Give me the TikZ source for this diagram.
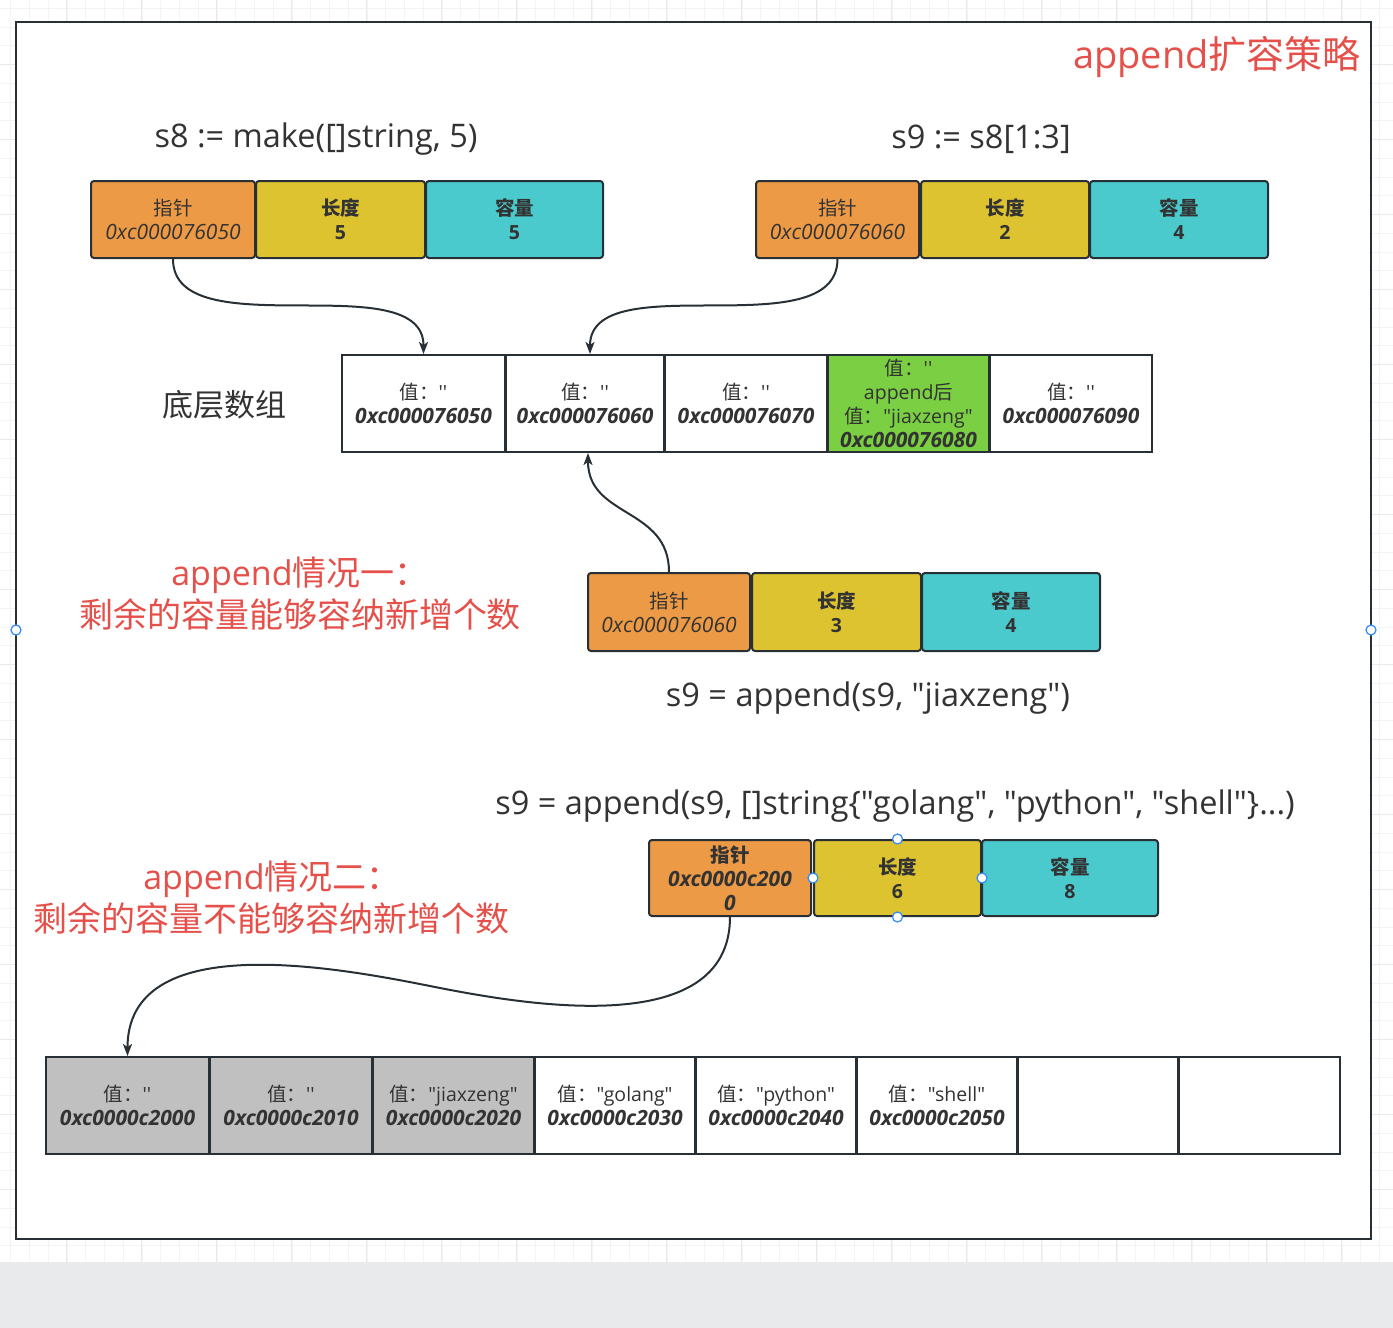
\documentclass[tikz,border=0pt]{standalone}
\usepackage{fontspec}
\setmainfont{Open Sans}[Ligatures=TeXOff]
\newfontfamily\cjkfont{Noto Sans CJK SC}
\newcommand\zh[1]{{\cjkfont #1}}
\newcommand\eq{''}
\newcommand\boxfont{\fontsize{19.5}{24}\selectfont}
\newcommand\ad{\fontsize{21}{24}\selectfont\itshape}
\usetikzlibrary{arrows.meta}
\definecolor{linec}{HTML}{283036}
\definecolor{txt}{HTML}{333333}
\definecolor{redt}{HTML}{E5504A}
\definecolor{orangef}{HTML}{EC9A45}
\definecolor{yellowf}{HTML}{DEC330}
\definecolor{tealf}{HTML}{4ACACD}
\definecolor{greenf}{HTML}{7ACF42}
\definecolor{grayf}{HTML}{C0C0C0}
\definecolor{band}{HTML}{E9EAEC}
\definecolor{gridminor}{HTML}{F4F4F4}
\definecolor{gridmajor}{HTML}{EAEAEA}
\definecolor{handlec}{HTML}{2F88FF}
\tikzset{
  hbox/.style={draw=linec, line width=2pt, rounded corners=3pt, inner sep=0pt, align=center, text=txt, font=\boxfont},
  cell/.style={draw=linec, line width=2pt, inner sep=0pt, align=center, text=txt, font=\boxfont, minimum height=97pt},
  conn/.style={draw=linec, line width=2pt, -{Stealth[length=12pt,width=9pt,inset=3pt]}},
  codetext/.style={text=txt, font=\fontsize{32.5}{38}\selectfont, inner sep=0pt},
  redtext/.style={text=redt, align=center, inner sep=0pt},
  handle/.style={circle, draw=handlec, fill=white, line width=1.2pt, minimum size=10pt, inner sep=0pt}
}
\begin{document}
\begin{tikzpicture}[x=1pt,y=-1pt]
\useasboundingbox (0,0) rectangle (1393,1328);
\fill[white] (0,0) rectangle (1393,1262);
\foreach \x in {10.8,29.55,...,1393} \draw[gridminor, line width=1pt] (\x,0) -- (\x,1262);
\foreach \y in {8.3,27.05,...,1262} \draw[gridminor, line width=1pt] (0,\y) -- (1393,\y);
\foreach \x in {66.7,141.7,...,1393} \draw[gridmajor, line width=1pt] (\x,0) -- (\x,1262);
\foreach \y in {64.6,139.6,...,1262} \draw[gridmajor, line width=1pt] (0,\y) -- (1393,\y);
\fill[band] (0,1262) rectangle (1393,1328);
\filldraw[fill=white, draw=linec, line width=2.2pt] (16,22) rectangle (1371,1239);

% title
\node[redtext, anchor=east, font=\fontsize{38}{44}\selectfont] (title) at (1361,57) {append\zh{扩容策略}};

% s8 header
\node[codetext] (s8lbl) at (316,139) {s8 := make([]string, 5)};
\node[hbox, fill=orangef, minimum width=164pt, minimum height=77pt] (p1) at (173,219.5) {\zh{指针}\\\ad 0xc000076050};
\node[hbox, fill=yellowf, minimum width=169pt, minimum height=77pt] (l1) at (340.5,219.5) {\bfseries\zh{长度}\\\bfseries 5};
\node[hbox, fill=tealf, minimum width=177pt, minimum height=77pt] (c1) at (514.5,219.5) {\bfseries\zh{容量}\\\bfseries 5};

% s9 header
\node[codetext] (s9lbl) at (981,139) {s9 := s8[1:3]};
\node[hbox, fill=orangef, minimum width=163pt, minimum height=77pt] (p2) at (837.5,219.5) {\zh{指针}\\\ad 0xc000076060};
\node[hbox, fill=yellowf, minimum width=168pt, minimum height=77pt] (l2) at (1005,219.5) {\bfseries\zh{长度}\\\bfseries 2};
\node[hbox, fill=tealf, minimum width=178pt, minimum height=77pt] (c2) at (1179,219.5) {\bfseries\zh{容量}\\\bfseries 4};

% underlying array
\node[text=txt, font=\fontsize{31}{36}\selectfont, inner sep=0pt] (arrlbl) at (224,405) {\zh{底层数组}};
\node[cell, fill=white, minimum width=163pt] (a1) at (423.5,403.5) {\zh{值：}\eq\\\bfseries\ad 0xc000076050};
\node[cell, fill=white, minimum width=158pt] (a2) at (585,403.5) {\zh{值：}\eq\\\bfseries\ad 0xc000076060};
\node[cell, fill=white, minimum width=162pt] (a3) at (746,403.5) {\zh{值：}\eq\\\bfseries\ad 0xc000076070};
\node[cell, fill=greenf, minimum width=161pt] (a4) at (908.5,403.5) {\zh{值：}\eq\\append\zh{后}\\\zh{值：}"jiaxzeng"\\\bfseries\ad 0xc000076080};
\node[cell, fill=white, minimum width=162pt] (a5) at (1071,403.5) {\zh{值：}\eq\\\bfseries\ad 0xc000076090};

% case 1
\node[redtext, font=\fontsize{34}{42}\selectfont] (case1) at (300,594) {append\zh{情况一：}\\\zh{剩余的容量能够容纳新增个数}};
\node[hbox, fill=orangef, minimum width=162pt, minimum height=78pt] (p3) at (669,612) {\zh{指针}\\\ad 0xc000076060};
\node[hbox, fill=yellowf, minimum width=169pt, minimum height=78pt] (l3) at (836.5,612) {\bfseries\zh{长度}\\\bfseries 3};
\node[hbox, fill=tealf, minimum width=178pt, minimum height=78pt] (c3) at (1011,612) {\bfseries\zh{容量}\\\bfseries 4};
\node[codetext] (app1) at (868,698) {s9 = append(s9, "jiaxzeng")};

% case 2
\node[codetext] (app2) at (895,806) {s9 = append(s9, []string\{"golang", "python", "shell"\}...)};
\node[redtext, font=\fontsize{34}{42}\selectfont] (case2) at (272,898) {append\zh{情况二：}\\\zh{剩余的容量不能够容纳新增个数}};
\node[hbox, fill=orangef, minimum width=162pt, minimum height=76pt] (p4) at (730,878) {\bfseries\zh{指针}\\\bfseries\ad 0xc0000c200\\\bfseries\ad 0};
\node[hbox, fill=yellowf, minimum width=167pt, minimum height=76pt] (l4) at (897.5,878) {\bfseries\zh{长度}\\\bfseries 6};
\node[hbox, fill=tealf, minimum width=176pt, minimum height=76pt] (c4) at (1070,878) {\bfseries\zh{容量}\\\bfseries 8};

% new array
\node[cell, fill=grayf, minimum width=163pt] (b1) at (127.5,1105.5) {\zh{值：}\eq\\\bfseries\ad 0xc0000c2000};
\node[cell, fill=grayf, minimum width=162pt] (b2) at (291,1105.5) {\zh{值：}\eq\\\bfseries\ad 0xc0000c2010};
\node[cell, fill=grayf, minimum width=161pt] (b3) at (453.5,1105.5) {\zh{值：}"jiaxzeng"\\\bfseries\ad 0xc0000c2020};
\node[cell, fill=white, minimum width=160pt] (b4) at (615,1105.5) {\zh{值：}"golang"\\\bfseries\ad 0xc0000c2030};
\node[cell, fill=white, minimum width=160pt] (b5) at (776,1105.5) {\zh{值：}"python"\\\bfseries\ad 0xc0000c2040};
\node[cell, fill=white, minimum width=160pt] (b6) at (937,1105.5) {\zh{值：}"shell"\\\bfseries\ad 0xc0000c2050};
\node[cell, fill=white, minimum width=160pt] (b7) at (1098,1105.5) {};
\node[cell, fill=white, minimum width=161pt] (b8) at (1259.5,1105.5) {};

% connectors
\coordinate (a2in) at ([xshift=5pt]a2.north);
\coordinate (a2out) at ([xshift=3pt]a2.south);
\draw[conn] (p1.south) .. controls +(0,90) and +(0,-90) .. (a1.north);
\draw[conn] (p2.south) .. controls +(0,90) and +(0,-90) .. (a2in);
\draw[conn] (p3.north) .. controls +(0,-65) and +(0,65) .. (a2out);
\coordinate (m4) at (430,986);
\draw[conn] (p4.south) .. controls +(0,125) and (520,1004) .. (m4) .. controls (330,966) and (127.5,930) .. (b1.north);

% selection handles
\node[handle] (h1) at (16,630) {};
\node[handle] (h2) at (1371,630) {};
\node[handle] (h3) at (l4.north) {};
\node[handle] (h4) at (l4.south) {};
\node[handle] (h5) at (l4.west) {};
\node[handle] (h6) at (l4.east) {};
\end{tikzpicture}
\end{document}
